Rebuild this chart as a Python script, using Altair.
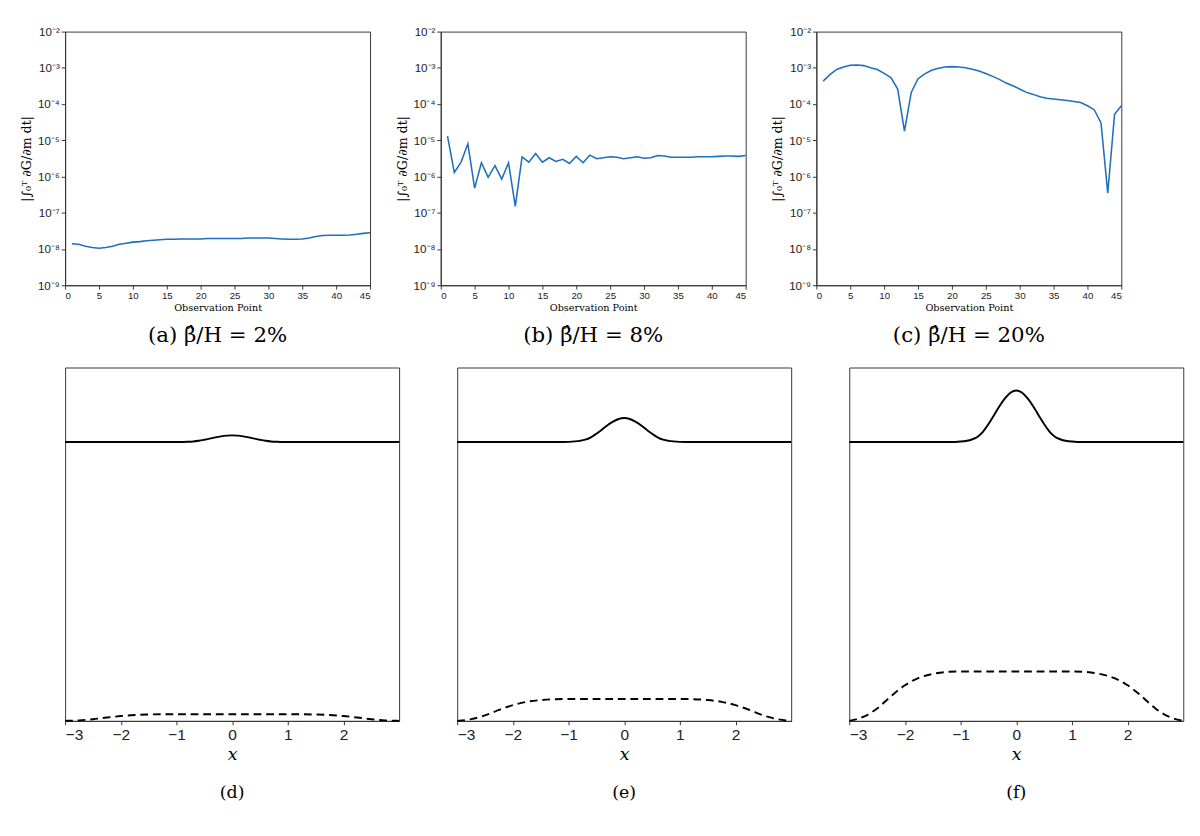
import altair as alt
import pandas as pd

# top panels: observation point vs |integral of dG/dm|
obs = list(range(1, 46))
err_a = [1.4e-8, 1.35e-8, 1.2e-8, 1.1e-8, 1.05e-8, 1.1e-8, 1.2e-8, 1.35e-8, 1.45e-8, 1.55e-8,
         1.6e-8, 1.7e-8, 1.75e-8, 1.8e-8, 1.85e-8, 1.85e-8, 1.9e-8, 1.9e-8, 1.9e-8, 1.9e-8,
         1.95e-8, 1.95e-8, 1.95e-8, 1.95e-8, 1.95e-8, 1.95e-8, 2.0e-8, 2.0e-8, 2.0e-8, 2.0e-8,
         1.95e-8, 1.9e-8, 1.85e-8, 1.85e-8, 1.9e-8, 2.0e-8, 2.2e-8, 2.35e-8, 2.4e-8, 2.4e-8,
         2.4e-8, 2.45e-8, 2.55e-8, 2.7e-8, 2.8e-8]
err_b = [1.3e-5, 1.3e-6, 2.5e-6, 8.0e-6, 4.8e-7, 2.4e-6, 9.5e-7, 2.0e-6, 8.5e-7, 2.4e-6,
         1.5e-7, 3.5e-6, 2.5e-6, 4.3e-6, 2.5e-6, 3.3e-6, 2.6e-6, 3.0e-6, 2.3e-6, 3.6e-6,
         2.4e-6, 3.9e-6, 3.1e-6, 3.3e-6, 3.5e-6, 3.4e-6, 3.1e-6, 3.3e-6, 3.5e-6, 3.2e-6,
         3.3e-6, 3.8e-6, 3.7e-6, 3.4e-6, 3.4e-6, 3.4e-6, 3.4e-6, 3.5e-6, 3.5e-6, 3.5e-6,
         3.6e-6, 3.7e-6, 3.7e-6, 3.6e-6, 3.8e-6]
err_c = [4.3e-4, 6.5e-4, 9.0e-4, 1.05e-3, 1.18e-3, 1.2e-3, 1.15e-3, 1.0e-3, 9.0e-4, 7.0e-4,
         5.4e-4, 2.6e-4, 1.8e-5, 2.1e-4, 5.0e-4, 6.8e-4, 8.6e-4, 9.8e-4, 1.05e-3, 1.08e-3,
         1.06e-3, 1.0e-3, 9.2e-4, 8.2e-4, 7.0e-4, 5.8e-4, 4.8e-4, 3.8e-4, 3.2e-4, 2.6e-4,
         2.1e-4, 1.85e-4, 1.6e-4, 1.45e-4, 1.38e-4, 1.32e-4, 1.25e-4, 1.18e-4, 1.1e-4, 9.0e-5,
         7.0e-5, 3.0e-5, 3.5e-7, 5.2e-5, 9.0e-5]
top_captions = ["(a)  β̂/H = 2%", "(b)  β̂/H = 8%", "(c)  β̂/H = 20%"]

# bottom panels: solid bump profile and dashed plateau profile
bump_x = [-3, -1.2, -1.0, -0.8, -0.7, -0.6, -0.5, -0.4, -0.3, -0.2, -0.1, 0,
          0.1, 0.2, 0.3, 0.4, 0.5, 0.6, 0.7, 0.8, 1.0, 1.2, 3]
bump_shape = [0, 0, 0.01, 0.05, 0.1, 0.2, 0.35, 0.52, 0.7, 0.85, 0.96, 1,
              0.96, 0.85, 0.7, 0.52, 0.35, 0.2, 0.1, 0.05, 0.01, 0, 0]
base_level = 0.789
bump_amp = [0.019, 0.068, 0.146]
plat_x = [-3, -2.75, -2.5, -2.25, -2, -1.75, -1.5, -1.25, -1, 0,
          1, 1.25, 1.5, 1.75, 2, 2.25, 2.5, 2.75, 3]
plat_shape = [0, 0.08, 0.25, 0.5, 0.72, 0.87, 0.95, 0.99, 1, 1,
              1, 0.99, 0.95, 0.87, 0.72, 0.5, 0.25, 0.08, 0]
plat_amp = [0.019, 0.062, 0.14]
bottom_captions = ["(d)", "(e)", "(f)"]

sup_expr = ("'10⁻' + substring('⁰¹²³⁴⁵⁶⁷⁸⁹', round(-log(datum.value)/LN10), "
            "round(-log(datum.value)/LN10) + 1)")

def top_panel(vals, caption):
    df = pd.DataFrame({"obs": obs, "err": vals})
    return alt.Chart(df, title=alt.Title(caption, orient="bottom", font="DejaVu Serif",
                                         fontSize=22, fontWeight="normal", offset=14)).mark_line(
        color="#1f6fbf", strokeWidth=1.6).encode(
        x=alt.X("obs:Q", scale=alt.Scale(domain=[0, 45], nice=False),
                axis=alt.Axis(values=list(range(0, 50, 5)), title="Observation Point",
                              titleFont="DejaVu Serif", titleFontWeight="normal", titleFontSize=10,
                              titlePadding=2, labelFontSize=10, grid=False, tickSize=4)),
        y=alt.Y("err:Q", scale=alt.Scale(type="log", domain=[1e-9, 1e-2], nice=False),
                axis=alt.Axis(values=[10.0 ** -k for k in range(2, 10)], labelExpr=sup_expr,
                              title="|∫₀ᵀ ∂G/∂m dt|", titleFont="DejaVu Serif",
                              titleFontWeight="normal", titleFontSize=13,
                              labelFontSize=12, grid=False, tickSize=4)),
    ).properties(width=315, height=262)

def bottom_panel(i):
    solid = pd.DataFrame({"x": bump_x, "y": [base_level + bump_amp[i] * s for s in bump_shape]})
    dash = pd.DataFrame({"x": plat_x, "y": [plat_amp[i] * s for s in plat_shape]})
    xenc = alt.X("x:Q", scale=alt.Scale(domain=[-3, 3], nice=False),
                 axis=alt.Axis(values=[-3, -2, -1, 0, 1, 2], format="d", title="x",
                               titleFont="DejaVu Serif", titleFontStyle="italic",
                               titleFontWeight="normal", titleFontSize=18, labelFontSize=16,
                               grid=False, tickSize=4))
    yenc = alt.Y("y:Q", scale=alt.Scale(domain=[0, 1], nice=False), axis=None)
    a = alt.Chart(solid).mark_line(color="black", strokeWidth=2, interpolate="monotone").encode(x=xenc, y=yenc)
    b = alt.Chart(dash).mark_line(color="black", strokeWidth=2, strokeDash=[8, 5],
                                  interpolate="monotone").encode(x=xenc, y=yenc)
    return alt.layer(a, b, title=alt.Title(bottom_captions[i], orient="bottom", font="DejaVu Serif",
                                           fontSize=18, fontWeight="normal", offset=22)
                     ).properties(width=345, height=365)

top = alt.hconcat(*[top_panel(v, c) for v, c in zip([err_a, err_b, err_c], top_captions)], spacing=22)
bottom = alt.hconcat(*[bottom_panel(i) for i in range(3)], spacing=50)
chart = alt.vconcat(top, bottom, spacing=20).configure(
    font="Liberation Sans", background="white",
    padding={"left": 12, "top": 4, "right": 4, "bottom": 4}).configure_view(
    stroke="#333").configure_axis(domainColor="#333", tickColor="#333", labelColor="#222")
chart.save("out.html", embed_options={"renderer": "svg", "actions": False})
